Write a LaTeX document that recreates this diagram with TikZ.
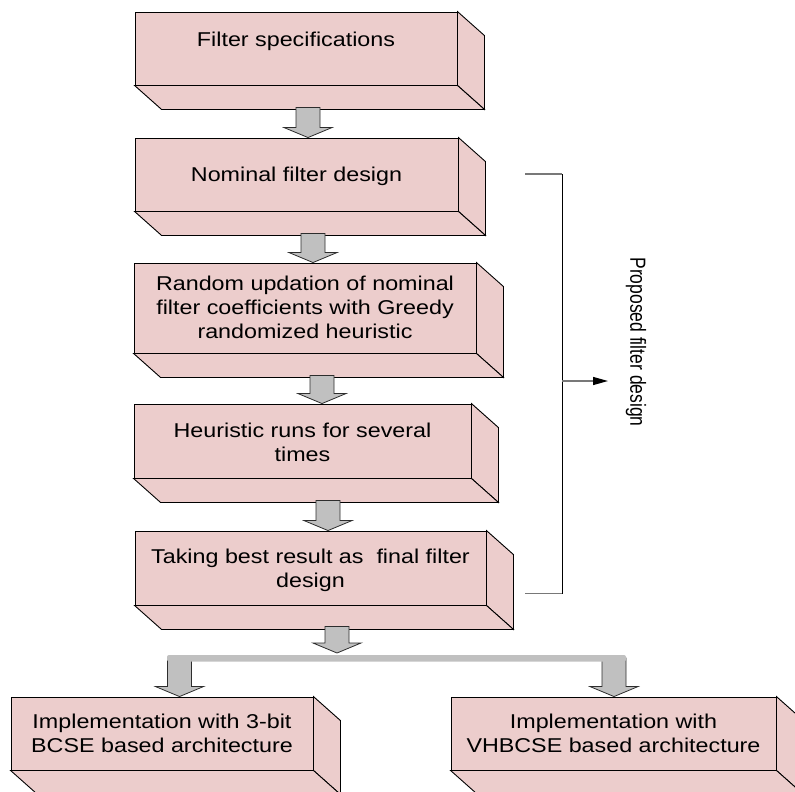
\documentclass[tikz,border=0pt]{standalone}
\usepackage{fontspec}
\setmainfont{Liberation Sans}
\newfontfamily\boxfont[FakeStretch=1.165]{Liberation Sans}
\usepackage{graphicx}
\usetikzlibrary{calc,arrows.meta}
\definecolor{boxpink}{RGB}{236,205,204}
\definecolor{arrowgray}{RGB}{192,192,192}
\definecolor{edgegray}{RGB}{45,45,45}
\definecolor{bracketgray}{RGB}{120,120,120}
\tikzset{
  front/.style={rectangle, draw=black, fill=boxpink, line width=0.9pt, inner sep=0pt,
    font=\boxfont\fontsize{20}{24}\selectfont},
  face/.style={draw=black, fill=boxpink, line width=0.9pt, line join=miter},
  blockarrow/.style={draw=edgegray, fill=arrowgray, line width=0.8pt, line join=miter},
  barstyle/.style={fill=arrowgray, rounded corners=2pt},
  graybracket/.style={draw=bracketgray, line width=1.3pt},
  blackbracket/.style={draw=black, line width=1pt},
  sidelabel/.style={inner sep=0pt, font=\fontsize{17.5}{21}\selectfont}
}
\newcommand\boxtext[2]{\raisebox{#1pt}[0pt][0pt]{\begin{tabular}[t]{@{}c@{}}#2\end{tabular}}}
\newcommand\extrude[1]{%
  \draw[face] (#1.north east) -- ++(27,24) -- ($(#1.south east)+(27,24)$) -- (#1.south east) -- cycle;
  \draw[face] (#1.south west) -- (#1.south east) -- ($(#1.south east)+(27,24)$) -- ($(#1.south west)+(27,24)$) -- cycle;}
\newcommand\downblock[3]{%
  \draw[blockarrow] let \p1=(#2), \p2=(#3) in
    ({#1pt-12pt},\y1) -- ({#1pt-12pt},{\y2+10pt}) -- ({#1pt-24pt},{\y2+10pt}) -- ({#1pt},\y2)
    -- ({#1pt+24pt},{\y2+10pt}) -- ({#1pt+12pt},{\y2+10pt}) -- ({#1pt+12pt},\y1) -- cycle;}
\begin{document}
\begin{tikzpicture}[x=1pt,y=-1pt]
\useasboundingbox (0,0) rectangle (795,792);

% boxes (front faces)
\node[front, minimum width=322pt, minimum height=73pt] (b1) at (296,48.5)
  {\boxtext{1.5}{Filter specifications}};
\node[front, minimum width=323pt, minimum height=73pt] (b2) at (296.5,174.5)
  {\boxtext{-6.5}{Nominal filter design}};
\node[front, minimum width=342pt, minimum height=90pt] (b3) at (305,308)
  {\boxtext{18}{Random updation of nominal\\filter coefficients with Greedy\\randomized heuristic}};
\node[front, minimum width=337pt, minimum height=74pt] (b4) at (302.5,441)
  {\boxtext{4}{Heuristic runs for several\\times}};
\node[front, minimum width=351pt, minimum height=74pt] (b5) at (310.5,568)
  {\boxtext{5}{Taking best result as~\ final filter\\design}};
\node[front, minimum width=302pt, minimum height=73pt] (b6) at (162,733.5)
  {\boxtext{5.5}{Implementation with 3-bit\\BCSE based architecture}};
\node[front, minimum width=325pt, minimum height=73pt] (b7) at (613.5,733.5)
  {\boxtext{5.5}{Implementation with\\VHBCSE based architecture}};

\extrude{b1}
\extrude{b2}
\extrude{b3}
\extrude{b4}
\extrude{b5}
\extrude{b6}
\extrude{b7}

% block arrows
\downblock{308}{$(b1.south)+(0,22)$}{b2.north}
\downblock{313}{$(b2.south)+(0,22)$}{b3.north}
\downblock{322}{$(b3.south)+(0,22)$}{b4.north}
\downblock{328}{$(b4.south)+(0,22)$}{b5.north}

\coordinate (barL) at (167,658);
\coordinate (barR) at (626,658);
\downblock{337}{$(b5.south)+(0,21)$}{$(barL)+(0,-5)$}
\downblock{179.5}{barL}{b6.north}
\downblock{614}{barR}{b7.north}
\fill[barstyle] ($(barL)+(0,-3)$) rectangle ($(barR)+(0,3.5)$);

% bracket
\coordinate (brT) at (525,174);
\coordinate (brTR) at (562,174);
\coordinate (brB) at (525,593.5);
\coordinate (brBR) at (562,593.5);
\coordinate (brM) at (562,381);
\coordinate (brA) at (608,381);
\draw[graybracket] (brT) -- (brTR);
\draw[graybracket] (brB) -- (brBR);
\draw[blackbracket] (brTR) -- (brBR);
\draw[draw=bracketgray, line width=1.3pt, -{Triangle[length=15pt,width=8pt,color=black]}] (brM) -- (brA);
\node[sidelabel] (pfd) at (636,342) {\scalebox{1.25}[1]{\rotatebox{-90}{Proposed filter design}}};
\end{tikzpicture}
\end{document}
